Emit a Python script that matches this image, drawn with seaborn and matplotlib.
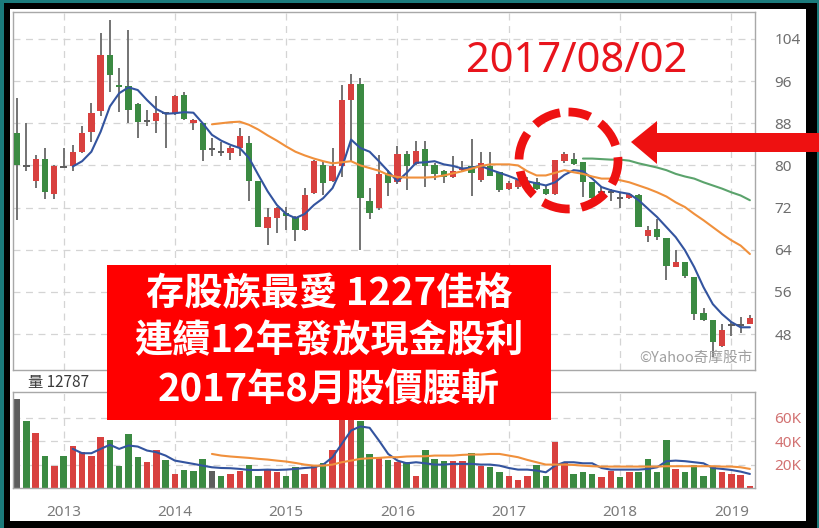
import numpy as np
import pandas as pd
import matplotlib
matplotlib.use("Agg")
import matplotlib.pyplot as plt
import matplotlib.patches as mpatches
import seaborn as sns

# ---------------- data (monthly candles, Aug 2012 .. Mar 2019) ----------------
MONTHS = pd.period_range("2012-08", "2019-03", freq="M")

OPEN = [86.1, 79.8, 77.0, 81.3, 74.6, 79.7, 79.8, 82.5, 86.3, 90.4,
        101.0, 95.3, 95.0, 91.6, 88.5, 88.5, 89.9, 89.9, 93.4, 88.0,
        88.0, 83.1, 82.6, 82.3, 83.3, 84.2, 77.0, 68.1, 70.0, 71.0,
        70.3, 67.8, 74.7, 80.1, 77.0, 79.8, 92.4, 95.4, 73.2, 72.0,
        78.5, 76.8, 82.1, 80.2, 83.2, 80.0, 78.9, 77.8, 79.2, 79.9,
        77.3, 79.9, 78.7, 75.6, 75.9, 77.0, 76.8, 75.6, 74.5, 80.8,
        81.3, 80.6, 76.8, 74.9, 74.9, 73.9, 73.9, 74.3, 66.7, 68.0,
        66.3, 60.8, 61.6, 58.9, 52.0, 50.7, 45.8, 49.8, 49.8, 49.9]
HIGH = [92.8, 88.0, 82.0, 83.3, 80.0, 83.3, 83.9, 87.5, 91.8, 105.1,
        107.6, 98.4, 105.7, 91.8, 90.5, 93.1, 90.1, 93.3, 94.0, 88.8,
        88.0, 85.2, 84.5, 83.6, 87.1, 85.5, 77.0, 71.9, 72.2, 72.2,
        70.5, 75.7, 81.0, 80.8, 83.3, 95.3, 97.3, 96.5, 75.7, 82.0,
        79.2, 83.7, 82.7, 84.6, 84.6, 80.5, 79.2, 81.8, 80.8, 85.0,
        82.5, 82.5, 78.7, 77.0, 77.5, 77.8, 77.6, 76.1, 81.1, 82.5,
        82.3, 80.6, 76.8, 75.9, 75.6, 74.7, 74.7, 74.6, 68.6, 69.9,
        66.3, 63.9, 61.6, 58.9, 53.0, 50.7, 49.9, 50.3, 51.2, 51.7]
LOW = [69.7, 78.9, 75.7, 73.7, 73.7, 79.5, 79.0, 82.3, 84.5, 89.3,
       93.9, 90.1, 88.0, 85.2, 87.4, 86.1, 83.4, 89.6, 88.6, 86.8,
       80.8, 81.7, 81.7, 81.1, 81.7, 73.2, 68.4, 65.0, 67.2, 67.8,
       65.6, 67.6, 74.5, 74.4, 76.8, 77.9, 80.7, 63.9, 69.9, 71.6,
       74.2, 76.5, 75.4, 80.0, 75.9, 77.3, 76.7, 77.7, 78.9, 74.2,
       76.8, 78.0, 74.9, 75.4, 75.5, 75.5, 75.4, 74.3, 74.3, 80.5,
       80.0, 74.1, 73.7, 73.4, 73.2, 72.0, 73.7, 68.3, 65.4, 65.9,
       58.3, 60.7, 58.7, 50.6, 50.5, 43.6, 45.5, 47.7, 48.2, 49.9]
CLOSE = [80.1, 79.8, 81.3, 74.9, 79.9, 79.7, 82.6, 86.1, 89.9, 101.0,
         97.2, 94.8, 90.5, 88.2, 88.5, 89.9, 89.9, 93.2, 88.8, 88.6,
         83.0, 83.1, 82.6, 83.3, 85.5, 77.0, 68.4, 70.3, 71.9, 70.4,
         67.8, 74.4, 80.8, 76.6, 79.8, 92.4, 95.4, 73.9, 71.0, 78.4,
         76.7, 82.1, 79.9, 82.7, 79.9, 78.3, 77.8, 78.9, 79.5, 78.5,
         80.5, 78.0, 75.4, 76.7, 77.2, 76.0, 75.6, 74.5, 81.1, 82.1,
         80.3, 76.8, 73.9, 74.9, 74.9, 73.9, 74.5, 68.3, 67.8, 66.4,
         61.0, 61.6, 59.1, 51.8, 50.7, 46.5, 48.7, 49.8, 49.8, 51.1]

# price moving averages, with first month index
MA_SHORT_START = 6
MA_SHORT = [79.8, 80.8, 82.6, 86.4, 91.2, 93.7, 94.8, 94.3, 92.4, 90.7,
            89.8, 89.9, 90.1, 90.0, 88.0, 85.8, 84.7, 83.9, 83.3, 81.4,
            78.2, 75.1, 72.5, 70.8, 70.0, 70.8, 72.5, 73.8, 75.7, 79.5,
            84.9, 83.3, 82.6, 80.8, 78.9, 77.0, 78.6, 80.5, 80.6, 80.8,
            80.2, 79.9, 79.4, 79.6, 79.9, 79.2, 78.6, 78.0, 77.3, 77.0,
            76.6, 76.2, 76.8, 78.2, 79.1, 78.9, 77.5, 75.9, 75.3, 74.9,
            74.6, 73.4, 71.8, 70.2, 68.3, 66.4, 63.9, 60.7, 56.9, 53.7,
            51.8, 50.3, 49.3, 49.3]
MA_MID_START = 21
MA_MID = [87.8, 88.0, 88.2, 88.3, 87.7, 86.8, 85.7, 84.7, 83.6, 82.6,
          81.9, 81.3, 80.8, 80.4, 80.6, 80.8, 80.0, 79.5, 79.0, 78.2,
          77.8, 77.7, 77.7, 77.7, 77.8, 78.1, 78.5, 78.9, 79.4, 79.9,
          80.2, 80.2, 80.2, 80.0, 78.9, 78.1, 78.1, 78.6, 79.1, 78.7,
          78.4, 77.9, 77.5, 77.5, 77.2, 76.8, 76.2, 75.6, 74.9, 74.1,
          73.0, 72.1, 70.8, 69.6, 68.3, 67.0, 65.8, 64.8, 63.2]
MA_LONG_START = 61
MA_LONG = [81.3, 81.3, 81.2, 81.1, 81.1, 80.9, 80.4, 80.0, 79.6, 79.1,
           78.4, 77.9, 77.5, 76.8, 76.2, 75.6, 74.9, 74.3, 73.4]

# volume (thousand lots) and its direction vs. previous close
VOLUME = [76.3, 56.9, 47.1, 27.4, 19.1, 27.4, 36.3, 30.6, 27.4, 43.4,
          41.1, 19.1, 46.3, 26.3, 22.0, 32.6, 24.0, 12.0, 15.4, 14.3,
          24.9, 14.9, 10.6, 12.0, 14.3, 20.0, 10.6, 15.4, 13.4, 10.6,
          17.7, 12.0, 20.0, 21.7, 32.6, 72.0, 80.0, 56.9, 29.1, 26.3,
          24.0, 22.0, 22.0, 10.6, 32.6, 24.9, 23.4, 23.4, 22.9, 30.0,
          19.1, 17.7, 13.4, 10.6, 6.9, 10.6, 20.0, 10.6, 39.7, 21.1,
          12.0, 13.4, 12.0, 9.1, 14.9, 9.1, 13.4, 13.4, 24.9, 13.4,
          41.1, 16.3, 13.4, 20.0, 10.6, 18.3, 13.4, 12.0, 11.4, 1.3]
VOL_DIR = list("ngrgrgrrrr"
               "ggggrrgrgg"
               "gngrrggrrg"
               "grrgrrrggr"
               "grgrgggrrg"
               "rggrrrggrr"
               "gggrrgrggg"
               "grggggrrrr")
VOL_MA_SHORT_START = 6
VOL_MA_SHORT = [33.4, 29.7, 29.7, 33.4, 36.9, 33.4, 36.3, 35.4, 32.0, 30.6,
                27.7, 23.4, 22.0, 20.6, 19.1, 17.7, 17.1, 16.9, 16.3, 15.4,
                15.4, 15.7, 15.4, 15.7, 16.3, 17.1, 17.7, 20.0, 26.3, 37.7,
                49.1, 52.6, 51.4, 40.6, 29.1, 23.4, 21.1, 22.0, 21.1, 20.0,
                20.0, 20.6, 20.6, 20.6, 20.0, 20.0, 19.1, 17.1, 15.7, 15.7,
                14.9, 13.4, 19.1, 22.0, 22.0, 21.1, 21.1, 17.1, 15.7, 15.7,
                15.7, 15.7, 16.3, 17.7, 22.9, 23.4, 22.9, 22.0, 21.1, 17.1,
                16.3, 15.4, 14.0, 12.0]
VOL_MA_LONG_START = 21
VOL_MA_LONG = [29.1, 27.7, 26.9, 26.3, 25.7, 24.9, 24.3, 23.4, 22.6, 21.4,
               20.0, 19.1, 19.1, 20.0, 22.0, 23.4, 24.9, 25.4, 25.7, 26.3,
               26.3, 26.9, 27.1, 27.1, 27.7, 27.7, 27.7, 28.3, 28.6, 28.6,
               29.1, 29.1, 27.7, 26.3, 24.0, 22.0, 20.0, 20.0, 20.0, 19.7,
               19.1, 18.6, 18.3, 18.3, 18.3, 18.3, 18.3, 18.3, 18.3, 18.6,
               18.6, 18.6, 18.6, 18.6, 18.6, 18.3, 18.3, 17.7, 16.3]

PRICE_TICKS = [48, 56, 64, 72, 80, 88, 96, 104]
VOL_TICKS = [20, 40, 60]
VOL_TICK_LABELS = ["20K", "40K", "60K"]
YEAR_LABELS = ["2013", "2014", "2015", "2016", "2017", "2018", "2019"]

TITLE_DATE = "2017/08/02"
BOX_LINES = ["存股族最愛 1227佳格", "連續12年發放現金股利", "2017年8月股價腰斬"]
VOL_LABEL = "量 12787"
WATERMARK = "©Yahoo奇摩股市"

# ---------------- styling ----------------
sns.set_style("white")
plt.rcParams["font.family"] = ["Noto Sans", "Noto Sans CJK TC", "DejaVu Sans"]
plt.rcParams["lines.scale_dashes"] = False
CJK = ["Noto Sans CJK TC", "DejaVu Sans"]

RED = "#d8413f"
GREEN = "#3b8a42"
GRAY = "#5e5e5e"
BLUE = "#33549f"
ORANGE = "#f0903c"
MAGREEN = "#5ba36c"
GRID = "#d4d4d4"
SPINE = "#a8a8a8"

W, H = 820, 528
fig = plt.figure(figsize=(W / 100, H / 100), dpi=100)
fig.patch.set_facecolor("#1b7b7c")


def px_axes(l, t, r, b, **kw):
    return fig.add_axes([l / W, 1 - b / H, (r - l) / W, (b - t) / H], **kw)


bg = fig.add_axes([0, 0, 1, 1], zorder=0)
bg.set_xlim(0, W); bg.set_ylim(H, 0); bg.axis("off")
bg.add_patch(mpatches.Rectangle((4, 3), 813, 526, color="black", lw=0))
bg.add_patch(mpatches.Rectangle((10, 9), 796, 512, color="white", lw=0))

axp = px_axes(13, 12, 755, 370, zorder=1)
axv = px_axes(13, 392, 755, 488, zorder=1)

n = len(MONTHS)
idx = np.arange(n)
df = pd.DataFrame({"idx": idx, "open": OPEN, "high": HIGH, "low": LOW, "close": CLOSE})
assert all(len(a) == n for a in (OPEN, HIGH, LOW, CLOSE, VOLUME, VOL_DIR))
df["dir"] = np.where(df.close > df.open, "up", np.where(df.close < df.open, "down", "flat"))
cmap = {"up": RED, "down": GREEN, "flat": GRAY}

# ---- price panel ----
axp.vlines(df.idx, df.low, df.high, color="#737373", lw=1.4, zorder=2)
flat = df.dir == "flat"
body_h = np.where(flat, 0.38, (df.close - df.open).abs())
body_b = np.where(flat, df.close - 0.19, np.minimum(df.open, df.close))
axp.bar(df.idx, body_h, bottom=body_b, width=0.68,
        color=[cmap[d] for d in df.dir], lw=0, zorder=3)

for start, vals, col in ((MA_SHORT_START, MA_SHORT, BLUE),
                         (MA_MID_START, MA_MID, ORANGE),
                         (MA_LONG_START, MA_LONG, MAGREEN)):
    xs = np.arange(start, start + len(vals))
    sns.lineplot(x=xs, y=vals, ax=axp, color=col, lw=1.5, zorder=4)

jan_idx = [i for i, m in enumerate(MONTHS) if m.month == 1]
axp.set_xlim(-0.45, n - 0.45)
axp.set_ylim(41.2, 109.1)
axp.set_xticks(jan_idx)
axp.set_xticklabels([])
axp.set_yticks(PRICE_TICKS)
axp.yaxis.tick_right()
axp.tick_params(axis="both", length=0)
axp.tick_params(axis="y", pad=14, labelsize=11, labelcolor="#6e6e6e")
axp.grid(True, ls=(0, (5, 4)), color=GRID, lw=0.9)
axp.set_xlabel(""); axp.set_ylabel("")
for s in axp.spines.values():
    s.set_color(SPINE); s.set_linewidth(1)
axp.text(0.996, 0.015, WATERMARK, transform=axp.transAxes, ha="right", va="bottom",
         color="#a0a0a0", fontsize=10.5, family=CJK, zorder=5)

# ---- volume panel ----
vdf = pd.DataFrame({"idx": idx, "vol": VOLUME, "dir": VOL_DIR})
sns.barplot(data=vdf, x="idx", y="vol", hue="dir", palette={"r": RED, "g": GREEN, "n": GRAY},
            native_scale=True, dodge=False, width=0.7, saturation=1, errorbar=None,
            legend=False, ax=axv, zorder=2, linewidth=0)
for start, vals, col in ((VOL_MA_SHORT_START, VOL_MA_SHORT, BLUE),
                         (VOL_MA_LONG_START, VOL_MA_LONG, ORANGE)):
    xs = np.arange(start, start + len(vals))
    sns.lineplot(x=xs, y=vals, ax=axv, color=col, lw=1.5, zorder=4)
axv.set_xlim(-0.45, n - 0.45)
axv.set_ylim(0, 82)
axv.set_xticks(jan_idx)
axv.set_xticklabels(YEAR_LABELS)
axv.set_yticks(VOL_TICKS)
axv.set_yticklabels(VOL_TICK_LABELS)
axv.yaxis.tick_right()
axv.tick_params(axis="both", length=0)
axv.tick_params(axis="y", pad=14, labelsize=11, labelcolor="#d27272")
axv.tick_params(axis="x", pad=12, labelsize=11, labelcolor="#7a7a7a")
axv.grid(True, ls=(0, (5, 4)), color=GRID, lw=0.9)
axv.set_axisbelow(True)
axv.set_xlabel(""); axv.set_ylabel("")
for s in axv.spines.values():
    s.set_color(SPINE); s.set_linewidth(1)

# ---- annotation overlay (pixel coordinates) ----
ov = fig.add_axes([0, 0, 1, 1], zorder=5)
ov.set_xlim(0, W); ov.set_ylim(H, 0); ov.axis("off")
ov.patch.set_alpha(0)

ov.text(28, 383, VOL_LABEL, ha="left", va="center", fontsize=11, color="#3a3a3a", family=CJK)

ov.text(577, 61, TITLE_DATE, ha="center", va="center", fontsize=30, color="#e8141c")

ov.add_patch(mpatches.Ellipse((568.5, 160.5), 99, 97, fill=False, ec="#ee1111", lw=6.3,
                              ls=(4, (20, 8.5)), zorder=6))

arrow = mpatches.Polygon([(631, 142), (657, 121), (657, 133), (822, 133), (822, 152),
                          (657, 152), (657, 164)], closed=True, color="#ee1111", lw=0, zorder=6)
ov.add_patch(arrow)

ov.add_patch(mpatches.Rectangle((107, 265), 444, 155, color="#ff0000", lw=0, zorder=6))
for yy, line in zip((294, 341, 389), BOX_LINES):
    ov.text(329, yy, line, ha="center", va="center", fontsize=27.5, color="white",
            family=CJK, weight="bold", zorder=7)

fig.savefig("out.png", dpi=100, facecolor=fig.get_facecolor())
